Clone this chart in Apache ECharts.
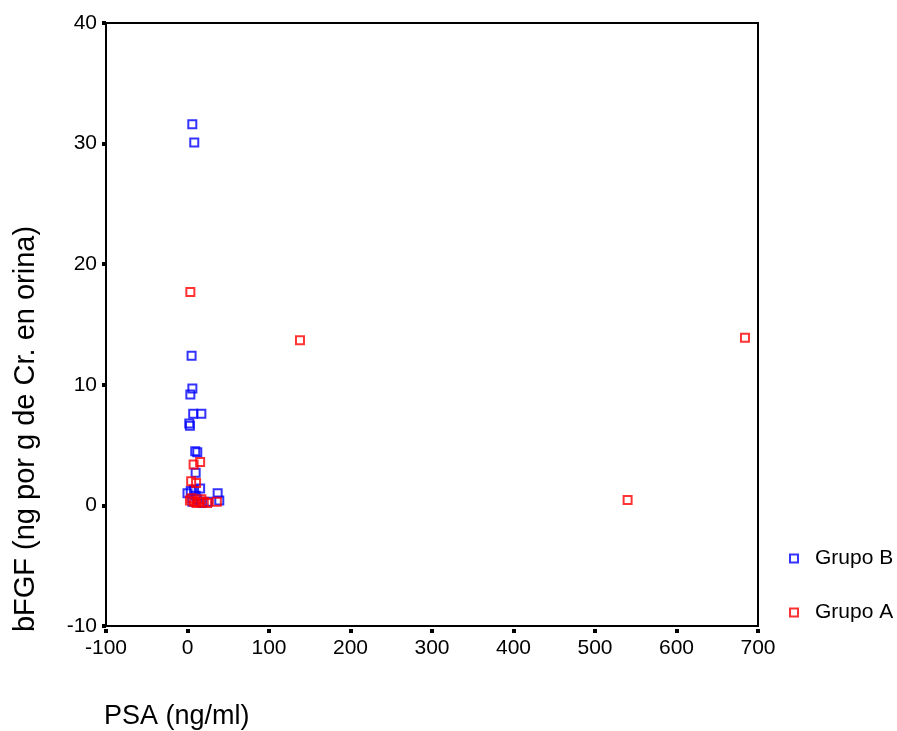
<!DOCTYPE html>
<html><head><meta charset="utf-8">
<script src="https://cdn.jsdelivr.net/npm/echarts@6/dist/echarts.min.js"></script>
<style>html,body{margin:0;padding:0;background:#fff}#c{width:897px;height:731px}</style>
</head><body><div id="c"></div>
<script>
var xTicks = [-100, 0, 100, 200, 300, 400, 500, 600, 700];
var yTicks = [-10, 0, 10, 20, 30, 40];
var seriesNames = ['Grupo B', 'Grupo A'];
var grupoB = [[5.9,31.6],[8.3,30.1],[5.0,12.4],[6.0,9.7],[3.5,9.2],[7.0,7.6],[17.0,7.6],[2.2,6.8],[3.0,6.6],[9.5,4.5],[12,4.4],[10,2.7],[15.5,1.4],[8,1.3],[0,1.0],[37,1.0],[4,1.2],[12,0.5],[25,0.3],[39,0.4],[6,0.3],[18,0.2],[10,0.8]];
var grupoA = [[3.5,17.7],[138,13.7],[684,13.9],[540,0.45],[7.5,3.4],[15.5,3.6],[4.5,2.0],[10.5,1.85],[3,0.4],[8,0.3],[14,0.3],[20,0.3],[36,0.3],[5,0.6],[11,0.2],[24,0.2],[17,0.5]];
var colors = ['#0000ff', '#ff0000'];
var xTitle = 'PSA (ng/ml)';
var yTitle = 'bFGF (ng por g de Cr. en orina)';

var chart = echarts.init(document.getElementById('c'), null, {renderer: 'canvas'});
var font = '"Liberation Sans", Arial, sans-serif';
function mk(name, data, color) {
  return {
    name: name, type: 'scatter', data: data, symbol: 'rect', symbolSize: 8,
    itemStyle: {color: 'rgba(255,255,255,0)', borderColor: color, borderWidth: 2},
    emphasis: {disabled: true}, animation: false
  };
}
chart.setOption({
  animation: false,
  backgroundColor: '#fff',
  grid: {left: 106, right: 139, top: 23, bottom: 105, show: true, borderColor: '#000', borderWidth: 2, backgroundColor: 'transparent'},
  xAxis: {
    type: 'value', min: xTicks[0], max: xTicks[xTicks.length-1], interval: 100,
    axisLine: {show: true, onZero: false, lineStyle: {color: '#000', width: 2}},
    axisTick: {show: true, length: 7, lineStyle: {color: '#000', width: 4, type: [0, 3, 4, 20]}},
    axisLabel: {color: '#000', fontSize: 21, fontFamily: font, margin: 12},
    splitLine: {show: false}
  },
  yAxis: {
    type: 'value', min: yTicks[0], max: yTicks[yTicks.length-1], interval: 10,
    axisLine: {show: true, onZero: false, lineStyle: {color: '#000', width: 2}},
    axisTick: {show: true, length: 4, lineStyle: {color: '#000', width: 4}},
    axisLabel: {color: '#000', fontSize: 21, fontFamily: font, margin: 9},
    splitLine: {show: false}
  },
  legend: {
    orient: 'vertical', left: 784, top: 543, itemGap: 33, itemWidth: 8, itemHeight: 8,
    data: seriesNames.map(function(n, i){ return {name: n, icon: 'rect', itemStyle: {color: 'rgba(255,255,255,0)', borderColor: colors[i], borderWidth: 2}}; }),
    textStyle: {color: '#000', fontSize: 21, fontFamily: font, padding: [0, 0, 0, 12]},
    selectedMode: false
  },
  graphic: [
    {type: 'text', left: 104, top: 703, style: {text: xTitle, fill: '#000', font: '27px ' + font}},
    {type: 'text', x: 11, y: 429, rotation: Math.PI/2, style: {text: yTitle, fill: '#000', font: '29px ' + font, align: 'center', verticalAlign: 'top'}}
  ],
  series: [mk(seriesNames[0], grupoB, colors[0]), mk(seriesNames[1], grupoA, colors[1])]
});
</script></body></html>
